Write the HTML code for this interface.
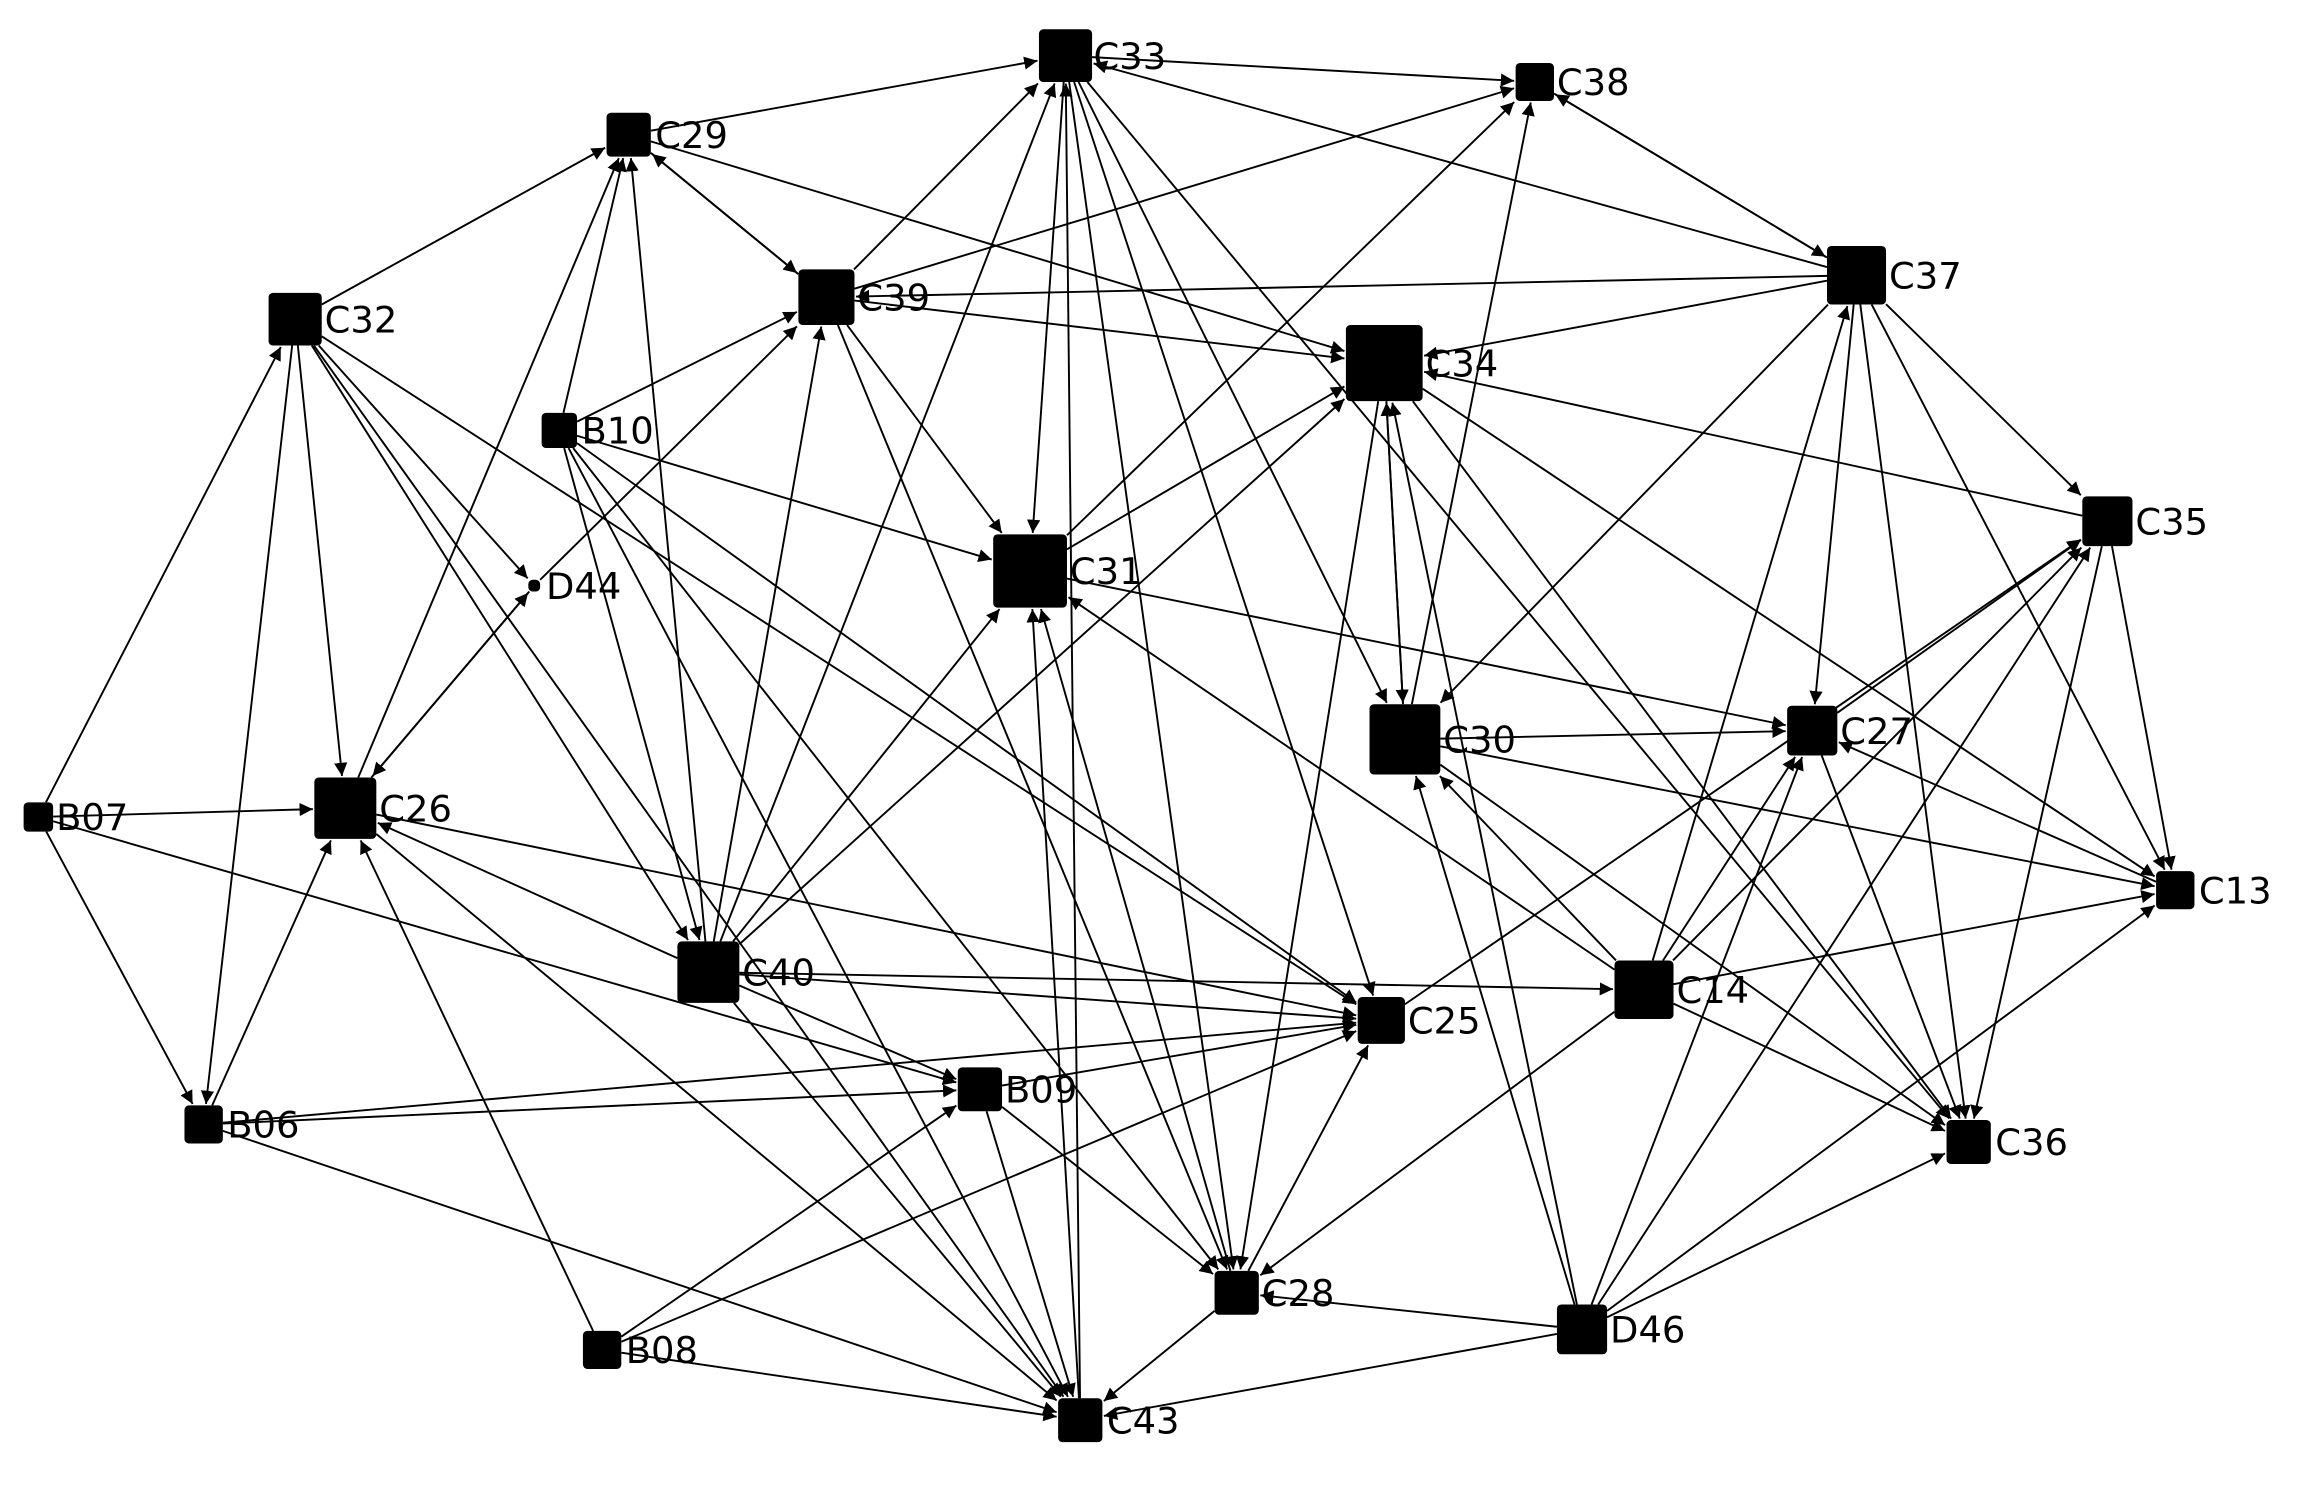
<!DOCTYPE html>
<html><head><meta charset="utf-8">
<style>
html,body{margin:0;padding:0;background:#fff;}
svg{display:block;}
text{font-family:"DejaVu Sans","Liberation Sans",sans-serif;font-size:25px;fill:#000;}
</style></head>
<body>
<svg id="s" width="2314" height="1489" viewBox="0 0 1568 1017" preserveAspectRatio="none" xmlns="http://www.w3.org/2000/svg">
<defs>
<marker id="a" viewBox="0 0 10 10" refX="10" refY="5" markerWidth="9" markerHeight="9" markerUnits="userSpaceOnUse" orient="auto">
<path d="M0,0 L10,5 L0,10 z" fill="#000"/></marker>
</defs>
<g id="edges" stroke="#000" stroke-width="1.3" fill="none"></g>
<g id="nodes"></g>
<g>
<text x="741" y="47">C33</text>
<text x="1055" y="65">C38</text>
<text x="444" y="101">C29</text>
<text x="581" y="212">C39</text>
<text x="220" y="227">C32</text>
<text x="1280" y="197">C37</text>
<text x="966" y="257">C34</text>
<text x="394" y="303">B10</text>
<text x="725" y="399">C31</text>
<text x="1447" y="365">C35</text>
<text x="370" y="409">D44</text>
<text x="1247" y="508">C27</text>
<text x="978" y="514">C30</text>
<text x="38" y="567">B07</text>
<text x="257" y="561">C26</text>
<text x="1490" y="617">C13</text>
<text x="503" y="673">C40</text>
<text x="1136" y="685">C14</text>
<text x="954" y="706">C25</text>
<text x="681" y="753">B09</text>
<text x="154" y="777">B06</text>
<text x="1352" y="789">C36</text>
<text x="855" y="892">C28</text>
<text x="1091" y="917">D46</text>
<text x="424" y="931">B08</text>
<text x="750" y="979">C43</text>
</g>
</svg>
<script>
var N={C33:[722,38,36],C38:[1040,56,26],C29:[426,92,30],C39:[560,203,38],C32:[200,218,36],C37:[1258,188,40],C34:[938,248,52],B10:[379,294,24],C31:[698,390,50],C35:[1428,356,34],D44:[362,400,8],C27:[1228,499,34],C30:[952,505,48],B07:[26,558,20],C26:[234,552,42],C13:[1474,608,26],C40:[480,664,42],C14:[1114,676,40],C25:[936,697,32],B09:[664,744,30],B06:[138,768,26],C36:[1334,780,30],C28:[838,883,30],D46:[1072,908,34],B08:[408,922,26],C43:[732,970,30]};
var E="C29-C33 C33-C38 C32-C29 C29-C39 C39-C29 C29-C34 B10-C29 C40-C29 C26-C29 C39-C33 C39-C38 C39-C34 C39-C31 C37-C39 C37-C33 C37-C38 C37-C34 C37-C35 C37-C27 C37-C13 C37-C36 C37-C30 C33-C31 C33-C28 C33-C25 C33-C30 C33-C36 C40-C33 C43-C33 B10-C39 B10-C31 B10-C40 B10-C25 B10-C43 B10-C28 C32-D44 C32-C26 C32-B06 C32-C40 C32-C25 C32-C43 B07-C32 B07-C26 B07-B06 B07-B09 B06-C26 B06-C25 B06-B09 B06-C43 B08-C26 B08-C43 B08-B09 B08-C25 C26-D44 D44-C26 D44-C39 C40-C26 C26-C25 C26-C43 C40-C39 C40-C31 C40-C34 C40-C25 C40-B09 C40-C43 C40-C14 C31-C27 C31-C38 C31-C34 C43-C31 C28-C31 C30-C34 C30-C38 C30-C27 C30-C13 C30-C36 C14-C30 C14-C31 C14-C27 C14-C35 C14-C13 C14-C36 C14-C28 C14-C37 C35-C34 C35-C13 C35-C36 C27-C35 C27-C36 C13-C27 D46-C28 D46-C30 D46-C34 D46-C36 D46-C13 D46-C35 D46-C27 D46-C43 B09-C25 B09-C43 B09-C28 C28-C25 C28-C43 C34-C28 C34-C36 C34-C13 C34-C30 C39-C28 C38-C37 C25-C35".split(" ");
var ns="http://www.w3.org/2000/svg",eg=document.getElementById("edges"),ng=document.getElementById("nodes");
function clip(x,y,dx,dy,h){var t=Math.min(Math.abs(dx)>0?h/Math.abs(dx):1e9,Math.abs(dy)>0?h/Math.abs(dy):1e9);return [x+dx*t,y+dy*t];}
E.forEach(function(e){var p=e.split("-"),a=N[p[0]],b=N[p[1]];if(!a||!b)return;var dx=b[0]-a[0],dy=b[1]-a[1];
var s=clip(a[0],a[1],dx,dy,a[2]/2),t=clip(b[0],b[1],-dx,-dy,b[2]/2+1);
var l=document.createElementNS(ns,"line");l.setAttribute("x1",s[0]);l.setAttribute("y1",s[1]);l.setAttribute("x2",t[0]);l.setAttribute("y2",t[1]);l.setAttribute("marker-end","url(#a)");eg.appendChild(l);});
for(var k in N){var n=N[k],r=document.createElementNS(ns,"rect");r.setAttribute("x",n[0]-n[2]/2);r.setAttribute("y",n[1]-n[2]/2);r.setAttribute("width",n[2]);r.setAttribute("height",n[2]);r.setAttribute("rx",3);r.setAttribute("fill","#000");ng.appendChild(r);}
</script>
</body></html>
